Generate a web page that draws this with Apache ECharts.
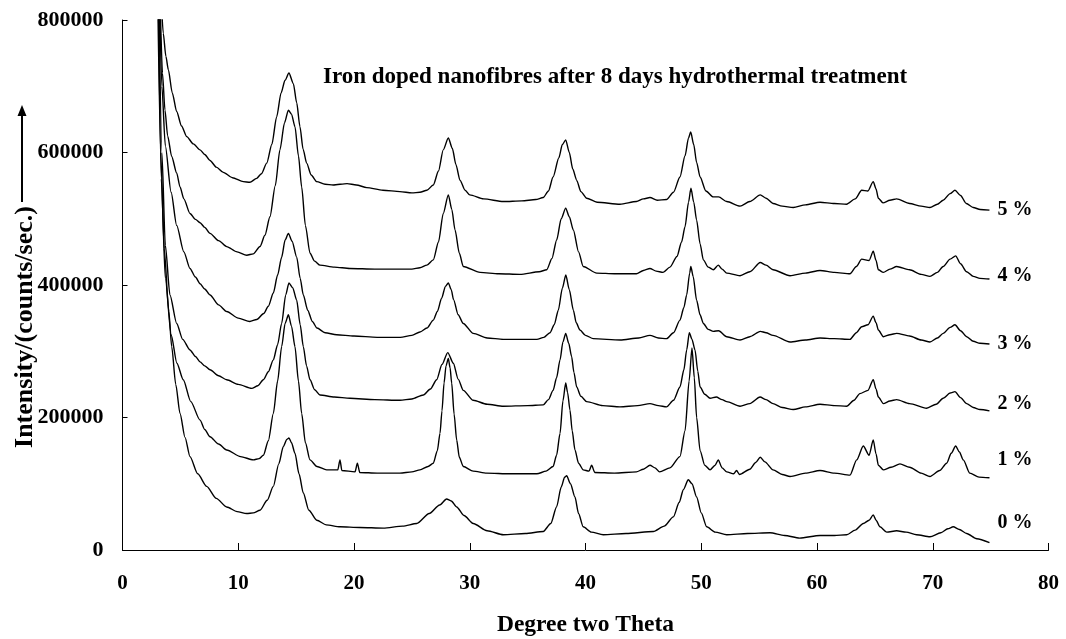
<!DOCTYPE html>
<html>
<head>
<meta charset="utf-8">
<script src="https://cdn.jsdelivr.net/npm/echarts@6/dist/echarts.min.js"></script>
<style>
html,body{margin:0;padding:0;background:#fff;}
#chart{width:1066px;height:639px;}
</style>
</head>
<body>
<div id="chart"></div>
<script>
const xTicks = [0, 10, 20, 30, 40, 50, 60, 70, 80];
const yTicks = [0, 200000, 400000, 600000, 800000];
const seriesNames = ['5 %', '4 %', '3 %', '2 %', '1 %', '0 %'];
const titleText = 'Iron doped nanofibres after 8 days hydrothermal treatment';
const xName = 'Degree two Theta';
const yName = 'Intensity/(counts/sec.)';

const s5 = [[3.35,830000],[3.52,780000],[3.75,745000],[3.96,725000],[4.3,690000],[4.68,662000],[5.1,640000],[5.55,624000],[6.12,613000],[6.7,604000],[7.1,597000],[7.56,588000],[8.1,578000],[8.71,570000],[9.5,562000],[10.44,556000],[11.0,555000],[11.59,561000],[12.0,568000],[12.46,584000],[12.9,612000],[13.32,654000],[13.7,690000],[14.04,709000],[14.38,720000],[14.76,704000],[15.05,675000],[15.33,639000],[15.6,605000],[15.91,584000],[16.3,566000],[16.78,556000],[17.5,552000],[18.2,551000],[19.4,553000],[20.2,551000],[21.1,547000],[22.5,543000],[23.97,541000],[25.0,539000],[25.7,540000],[26.3,543000],[26.85,551000],[27.3,572000],[27.71,604000],[28.15,622000],[28.5,606000],[28.8,582000],[29.16,558000],[29.6,543000],[30.0,536000],[31.2,530000],[32.9,526000],[34.5,527000],[35.7,529000],[36.35,532000],[36.8,542000],[37.2,563000],[37.7,592000],[38.0,612000],[38.29,619000],[38.6,600000],[38.9,575000],[39.24,558000],[39.6,541000],[40.1,531000],[41.0,525000],[42.98,522000],[44.4,526000],[45.0,530000],[45.57,532000],[46.2,528000],[47.0,529000],[47.6,540000],[48.16,563000],[48.6,595000],[48.9,622000],[49.09,631000],[49.35,612000],[49.6,585000],[49.9,563000],[50.4,542000],[51.04,533000],[51.5,533000],[52.2,526000],[53.35,519000],[54.2,526000],[55.1,536000],[55.6,531000],[56.2,523000],[57.0,519000],[57.95,517000],[59.0,521000],[60.26,525000],[61.5,523000],[62.56,522000],[63.3,530000],[63.86,543000],[64.4,542000],[64.86,556000],[65.1,545000],[65.3,531000],[65.7,524000],[66.3,528000],[66.88,530000],[68.0,523000],[69.0,519000],[69.76,517000],[70.4,522000],[70.9,528000],[71.5,538000],[71.92,543000],[72.4,535000],[72.9,523000],[73.5,517000],[74.1,514000],[74.9,513000]];

const s4 = [[3.25,830000],[3.45,720000],[3.67,664000],[3.9,625000],[4.25,594000],[4.68,569000],[4.97,548000],[5.3,530000],[5.83,508000],[6.3,499000],[6.7,494000],[7.1,487000],[7.56,478000],[8.3,467000],[9.0,458000],[9.9,450000],[10.73,445000],[11.3,447000],[11.88,458000],[12.3,475000],[12.74,503000],[13.2,550000],[13.6,604000],[14.0,645000],[14.33,664000],[14.6,658000],[14.9,639000],[15.2,595000],[15.48,548000],[15.8,490000],[16.2,448000],[16.6,436000],[17.06,430000],[18.3,427000],[19.65,425000],[21.8,424000],[23.97,424000],[25.0,424000],[25.7,426000],[26.3,430000],[26.85,438000],[27.3,465000],[27.71,508000],[28.15,536000],[28.45,514000],[28.73,483000],[29.1,448000],[29.44,428000],[30.89,419000],[32.5,417000],[34.34,416000],[36.0,420000],[36.65,423000],[37.1,440000],[37.51,468000],[37.9,500000],[38.29,516000],[38.6,503000],[38.95,483000],[39.4,450000],[39.8,428000],[40.97,418000],[42.5,417000],[44.4,417000],[45.0,422000],[45.57,425000],[46.1,421000],[46.7,419000],[47.3,427000],[47.9,443000],[48.3,465000],[48.6,488000],[48.9,525000],[49.11,546000],[49.35,525000],[49.6,498000],[49.9,462000],[50.18,438000],[50.6,427000],[51.04,423000],[51.47,430000],[51.8,424000],[52.2,418000],[53.35,414000],[54.2,420000],[55.1,434000],[55.6,430000],[56.2,423000],[57.67,414000],[59.0,418000],[60.26,422000],[61.5,419000],[62.85,417000],[63.4,428000],[63.86,439000],[64.5,437000],[64.86,451000],[65.1,437000],[65.3,423000],[65.73,419000],[66.3,424000],[66.88,428000],[68.0,423000],[69.0,416000],[69.76,413000],[70.4,419000],[70.9,428000],[71.5,439000],[71.98,444000],[72.4,432000],[72.93,420000],[73.5,413000],[74.08,410000],[74.9,409000]];

const s3 = [[3.2,830000],[3.4,700000],[3.7,610000],[4.2,540000],[4.68,490000],[5.3,450000],[5.83,425000],[6.3,412000],[6.7,402000],[7.1,394000],[7.56,385000],[8.3,370000],[9.0,360000],[10.0,350000],[11.0,345000],[11.6,348000],[12.2,357000],[12.6,368000],[13.03,388000],[13.4,415000],[13.75,442000],[14.05,468000],[14.33,478000],[14.65,466000],[15.05,442000],[15.35,410000],[15.62,385000],[16.0,362000],[16.4,345000],[16.8,335000],[17.5,328000],[18.5,325000],[20.0,323000],[22.0,321000],[24.0,321000],[25.0,324000],[25.7,329000],[26.3,335000],[26.85,347000],[27.2,360000],[27.57,380000],[27.9,398000],[28.15,403000],[28.4,393000],[28.6,378000],[29.0,355000],[29.44,342000],[30.3,327000],[31.5,320000],[32.9,318000],[35.8,318000],[36.4,321000],[36.93,328000],[37.3,340000],[37.65,362000],[38.0,395000],[38.3,415000],[38.6,393000],[38.95,362000],[39.2,343000],[39.52,332000],[40.0,324000],[40.67,319000],[43.0,317000],[44.6,320000],[45.57,324000],[46.3,320000],[47.0,319000],[47.6,328000],[48.16,347000],[48.5,366000],[48.74,385000],[49.0,418000],[49.1,428000],[49.3,413000],[49.6,377000],[49.9,355000],[50.18,342000],[50.6,333000],[51.04,330000],[51.5,331000],[52.2,322000],[53.35,317000],[54.2,322000],[55.1,330000],[55.6,328000],[56.2,324000],[57.67,314000],[59.0,317000],[60.26,320000],[61.5,319000],[62.85,318000],[63.4,328000],[63.86,337000],[64.4,340000],[64.86,353000],[65.1,343000],[65.3,332000],[65.73,322000],[66.3,325000],[66.88,327000],[68.0,323000],[69.0,317000],[69.76,314000],[70.4,320000],[70.9,327000],[71.5,336000],[71.92,340000],[72.4,331000],[72.93,322000],[73.5,315000],[74.08,312000],[74.9,311000]];

const s2 = [[3.15,830000],[3.4,600000],[3.7,460000],[4.1,385000],[4.68,342000],[5.2,318000],[5.83,302000],[6.3,292000],[6.7,284000],[7.1,278000],[7.56,272000],[8.3,263000],[9.0,257000],[10.0,250000],[11.16,244000],[11.7,248000],[12.17,257000],[12.6,269000],[13.03,287000],[13.4,310000],[13.75,342000],[14.1,385000],[14.38,403000],[14.7,396000],[15.05,377000],[15.35,340000],[15.62,307000],[15.9,278000],[16.2,257000],[16.6,242000],[17.06,234000],[18.3,231000],[19.65,229000],[21.8,227000],[23.97,226000],[25.0,228000],[25.99,234000],[26.6,243000],[27.14,257000],[27.6,280000],[28.1,298000],[28.58,282000],[29.0,258000],[29.44,241000],[30.3,226000],[31.5,220000],[32.9,217000],[35.0,218000],[36.35,219000],[36.8,227000],[37.2,241000],[37.5,260000],[37.8,287000],[38.05,314000],[38.29,327000],[38.55,312000],[38.8,292000],[39.0,268000],[39.24,246000],[39.6,232000],[40.1,224000],[41.5,218000],[42.98,216000],[44.5,218000],[45.57,221000],[46.3,218000],[47.0,216000],[47.6,226000],[48.16,246000],[48.5,272000],[48.74,302000],[48.97,328000],[49.2,318000],[49.46,302000],[49.7,270000],[49.9,246000],[50.3,235000],[50.76,229000],[51.3,231000],[51.8,227000],[52.2,224000],[53.35,217000],[54.2,221000],[55.08,231000],[55.6,227000],[56.2,221000],[57.0,215000],[57.95,212000],[59.0,216000],[60.26,220000],[61.5,218000],[62.56,217000],[63.2,226000],[63.7,236000],[64.4,241000],[64.86,257000],[65.1,243000],[65.3,231000],[65.73,221000],[66.3,225000],[66.88,227000],[68.0,221000],[69.47,214000],[70.3,220000],[70.9,229000],[71.5,237000],[71.92,239000],[72.4,230000],[72.93,221000],[73.5,215000],[74.08,212000],[74.9,210000]];

const s1 = [[3.1,830000],[3.35,560000],[3.7,410000],[4.2,325000],[4.7,282000],[5.25,257000],[5.9,224000],[6.7,196000],[7.1,182000],[7.56,171000],[8.3,160000],[9.0,151000],[10.2,141000],[11.3,136000],[11.8,138000],[12.17,143000],[12.6,165000],[13.03,206000],[13.4,255000],[13.75,307000],[14.05,342000],[14.33,355000],[14.6,338000],[14.9,307000],[15.2,255000],[15.48,206000],[15.8,162000],[16.2,136000],[16.8,126000],[17.64,121000],[18.6,121000],[18.79,136000],[18.95,120000],[20.09,118000],[20.29,131000],[20.5,117000],[22.0,116000],[23.97,116000],[25.0,118000],[25.7,121000],[26.4,126000],[26.85,131000],[27.2,150000],[27.43,176000],[27.6,210000],[27.78,252000],[27.95,278000],[28.15,289000],[28.3,275000],[28.44,252000],[28.65,205000],[28.87,166000],[29.1,140000],[29.44,126000],[30.3,119000],[31.46,116000],[33.5,115000],[35.8,115000],[36.6,119000],[37.2,126000],[37.5,143000],[37.8,176000],[38.05,225000],[38.29,252000],[38.45,238000],[38.66,211000],[38.85,180000],[39.09,151000],[39.4,131000],[39.8,121000],[40.3,119000],[40.53,128000],[40.8,117000],[42.5,116000],[44.4,118000],[45.0,122000],[45.57,128000],[46.0,124000],[46.4,118000],[47.3,124000],[48.16,141000],[48.6,180000],[48.95,255000],[49.2,305000],[49.4,260000],[49.6,200000],[49.9,150000],[50.3,128000],[50.76,121000],[51.2,128000],[51.47,136000],[51.8,124000],[52.2,118000],[52.8,115000],[53.05,120000],[53.3,114000],[54.2,122000],[54.7,132000],[55.1,140000],[55.5,133000],[56.2,121000],[57.0,114000],[57.67,111000],[59.0,116000],[60.26,120000],[61.5,116000],[62.85,113000],[63.43,136000],[64.0,157000],[64.5,143000],[64.86,166000],[65.1,145000],[65.3,128000],[65.73,121000],[66.4,125000],[67.17,130000],[68.0,125000],[69.0,116000],[69.76,111000],[70.6,120000],[71.2,131000],[71.6,146000],[71.98,157000],[72.3,148000],[72.64,136000],[73.2,116000],[74.0,110000],[74.9,109000]];

const s0 = [[3.05,830000],[3.3,600000],[3.6,455000],[4.0,360000],[4.25,307000],[4.6,250000],[4.97,206000],[5.4,170000],[5.83,141000],[6.5,115000],[7.27,96000],[8.1,78000],[9.0,65000],[9.9,58000],[10.73,55000],[11.3,56000],[11.88,60000],[12.5,75000],[13.03,96000],[13.5,130000],[13.89,156000],[14.2,167000],[14.38,169000],[14.6,162000],[14.9,146000],[15.25,115000],[15.62,86000],[16.1,60000],[16.78,45000],[17.6,38000],[18.79,35000],[20.5,34000],[22.53,33000],[24.2,36000],[25.42,40000],[26.5,55000],[27.4,68000],[28.0,77000],[28.4,74000],[28.87,65000],[29.5,52000],[30.3,40000],[31.5,29000],[32.9,23000],[34.8,25000],[36.35,28000],[37.0,40000],[37.5,65000],[37.9,95000],[38.2,110000],[38.37,112000],[38.7,100000],[39.09,80000],[39.4,55000],[39.8,35000],[40.5,27000],[41.53,23000],[43.5,25000],[45.86,28000],[46.8,36000],[47.59,50000],[48.1,72000],[48.45,91000],[48.88,106000],[49.2,100000],[49.6,80000],[50.0,56000],[50.47,35000],[51.2,27000],[52.2,23000],[54.0,25000],[55.94,26000],[57.2,22000],[58.5,18000],[60.26,22000],[61.5,22000],[62.56,23000],[63.3,30000],[64.0,40000],[64.5,45000],[64.86,53000],[65.1,45000],[65.44,35000],[66.02,27000],[66.88,29000],[67.7,27000],[68.6,23000],[69.76,20000],[70.7,26000],[71.3,32000],[71.77,35000],[72.3,31000],[72.93,25000],[73.8,17000],[74.9,11000]];

const seriesData = [s5, s4, s3, s2, s1, s0];
const labelShift = [0, -3, 0, -7, -18, -20];

const FONT = "'Liberation Serif', 'Times New Roman', serif";
const chart = echarts.init(document.getElementById('chart'), null, {renderer: 'canvas'});

const option = {
  backgroundColor: '#ffffff',
  animation: false,
  title: {
    text: titleText,
    left: 318,
    top: 61,
    textStyle: {fontFamily: FONT, fontWeight: 'bold', fontSize: 23, color: '#000'}
  },
  grid: {left: 122.5, right: 17.5, top: 20, bottom: 89, containLabel: false, outerBoundsMode: 'none'},
  xAxis: {
    type: 'value', min: xTicks[0], max: xTicks[xTicks.length - 1], interval: 10,
    name: xName, nameLocation: 'middle', nameGap: 63, nameMoveOverlap: false,
    nameTextStyle: {fontFamily: FONT, fontWeight: 'bold', fontSize: 23.5, color: '#000'},
    axisLine: {show: true, lineStyle: {color: '#000', width: 1}},
    axisTick: {show: true, inside: true, length: 7, lineStyle: {color: '#000'}},
    axisLabel: {fontFamily: FONT, fontWeight: 'bold', fontSize: 21, color: '#000', margin: 23,
      formatter: v => String(v)},
    splitLine: {show: false}
  },
  yAxis: {
    type: 'value', min: yTicks[0], max: yTicks[yTicks.length - 1], interval: 200000,
    name: yName, nameLocation: 'middle', nameGap: 84, nameMoveOverlap: false,
    nameTextStyle: {fontFamily: FONT, fontWeight: 'bold', fontSize: 26, color: '#000', padding: [0, 84, 0, 0]},
    axisLine: {show: true, lineStyle: {color: '#000', width: 1}},
    axisTick: {show: true, inside: true, length: 5, lineStyle: {color: '#000'}},
    axisLabel: {fontFamily: FONT, fontWeight: 'bold', fontSize: 22, color: '#000', margin: 19,
      verticalAlign: 'middle', verticalAlignMinLabel: 'middle', verticalAlignMaxLabel: 'middle',
      formatter: v => String(v)},
    splitLine: {show: false}
  },
  graphic: [
    {type: 'line', shape: {x1: 22, y1: 202, x2: 22, y2: 113}, style: {stroke: '#000', lineWidth: 2}},
    {type: 'polygon', shape: {points: [[22, 105], [17.5, 116], [26.5, 116]]}, style: {fill: '#000'}}
  ],
  series: seriesNames.map((name, i) => ({
    name: name,
    type: 'line',
    data: seriesData[i],
    showSymbol: false,
    symbol: 'none',
    smooth: 0.25,
    smoothMonotone: 'x',
    clip: true,
    lineStyle: {color: '#000', width: 1.4},
    itemStyle: {color: '#000'},
    endLabel: {
      show: true, formatter: '{a}', distance: 8, offset: [0, labelShift[i]],
      fontFamily: FONT, fontWeight: 'bold', fontSize: 20, color: '#000'
    }
  }))
};
chart.setOption(option);
</script>
</body>
</html>
